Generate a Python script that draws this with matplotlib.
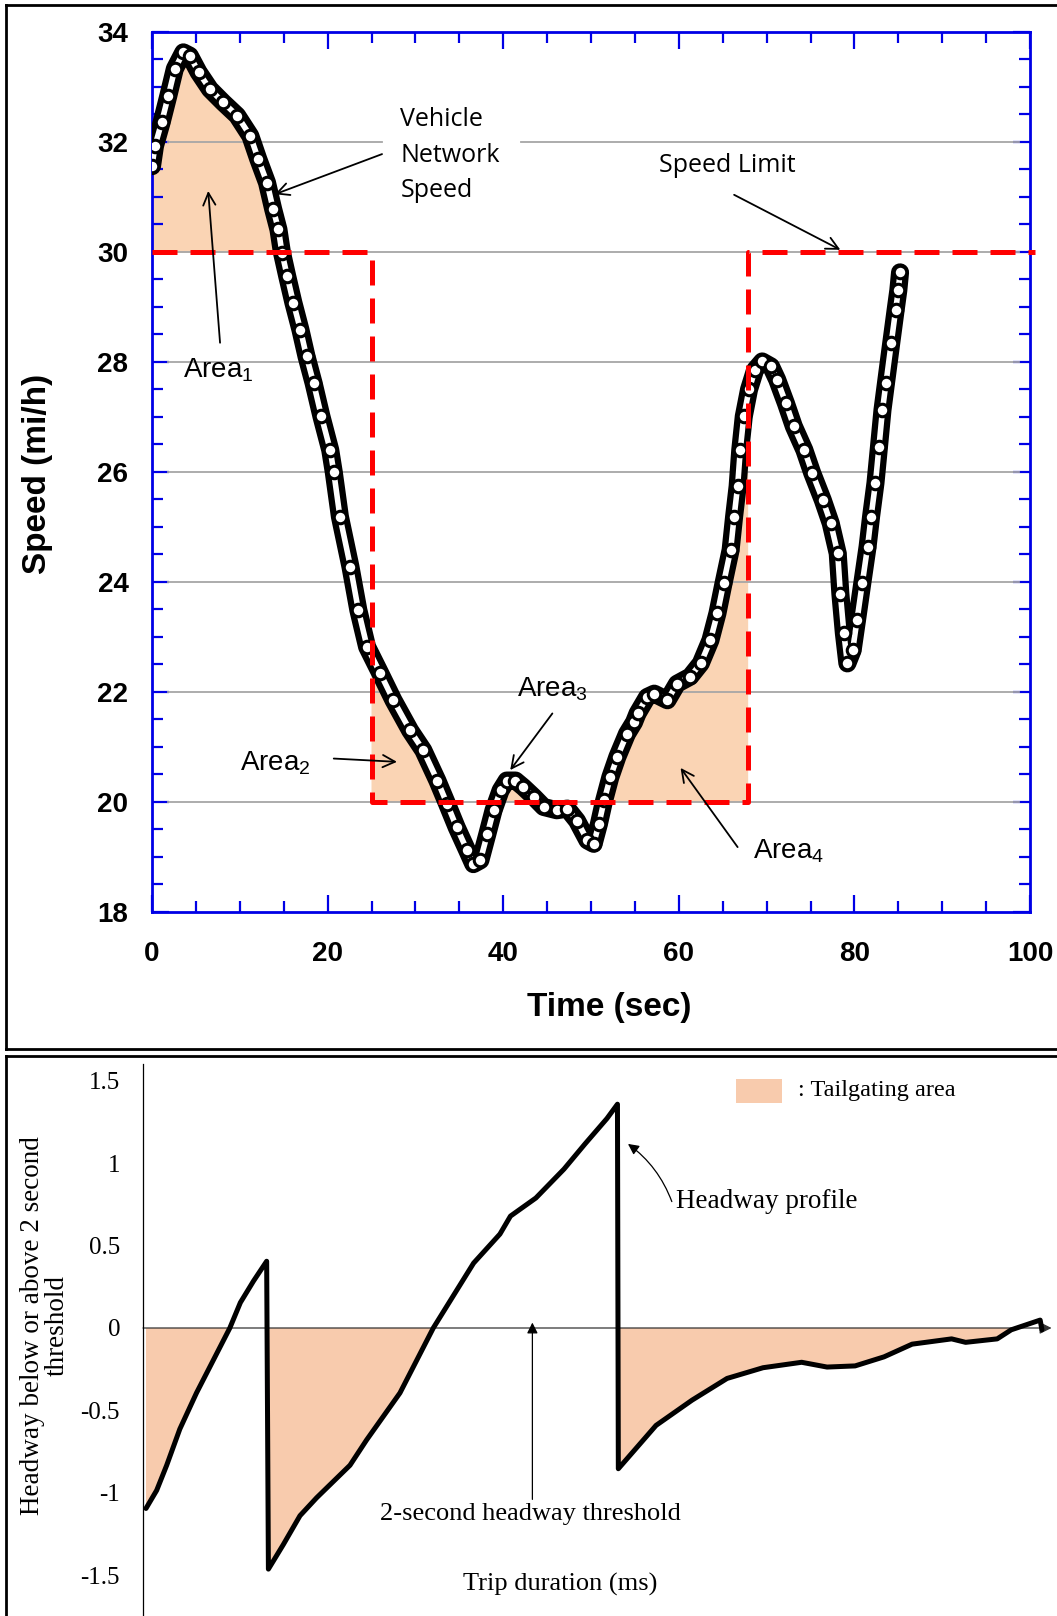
import numpy as np
import matplotlib
matplotlib.use("Agg")
import matplotlib.pyplot as plt
from matplotlib.lines import Line2D
from matplotlib.patches import Rectangle, FancyArrowPatch

plt.rcParams['mathtext.fontset'] = 'custom'
plt.rcParams['mathtext.rm'] = 'Liberation Sans'

# ---- top chart data: vehicle network speed ----
time_s = [0.0, 0.34, 1.1, 1.86, 2.6, 3.57, 4.3, 5.3, 6.6, 8.1, 9.7, 11.2, 12.1, 13.1,
          13.8, 14.4, 14.8, 15.4, 16.1, 16.9, 17.6, 18.4, 19.3, 20.3, 20.7, 21.4, 22.6,
          23.5, 24.5, 26.0, 27.5, 29.4, 30.9, 32.5, 33.6, 34.7, 35.9, 36.6, 37.4, 38.2,
          38.9, 39.7, 40.4, 41.4, 42.3, 43.5, 44.6, 46.1, 47.3, 48.4, 49.6, 50.3, 50.9,
          51.5, 52.2, 53.0, 54.1, 54.9, 55.3, 56.4, 57.2, 58.7, 59.8, 61.3, 62.5, 63.6,
          64.4, 65.1, 65.9, 66.3, 66.7, 67.0, 67.4, 68.0, 68.7, 69.5, 70.5, 71.2, 72.2,
          73.1, 74.3, 75.2, 76.4, 77.3, 78.1, 78.4, 78.8, 79.2, 79.8, 80.3, 80.9, 81.5,
          81.9, 82.4, 82.8, 83.2, 83.6, 84.2, 84.7, 85.0, 85.2]
speed_mph = [31.56, 31.93, 32.36, 32.84, 33.33, 33.63, 33.57, 33.27, 32.96, 32.72, 32.48,
             32.11, 31.69, 31.26, 30.78, 30.41, 29.99, 29.56, 29.08, 28.59, 28.10, 27.62,
             27.01, 26.40, 26.0, 25.19, 24.28, 23.49, 22.82, 22.34, 21.85, 21.30, 20.94,
             20.39, 19.97, 19.54, 19.12, 18.87, 18.94, 19.42, 19.85, 20.21, 20.39, 20.39,
             20.27, 20.09, 19.91, 19.85, 19.88, 19.66, 19.30, 19.24, 19.60, 20.03, 20.45,
             20.82, 21.24, 21.45, 21.61, 21.91, 21.97, 21.85, 22.15, 22.28, 22.52, 22.94,
             23.43, 23.98, 24.58, 25.19, 25.74, 26.40, 27.01, 27.50, 27.86, 28.01, 27.92,
             27.68, 27.25, 26.83, 26.40, 25.98, 25.49, 25.07, 24.52, 23.79, 23.07, 22.52,
             22.76, 23.31, 23.98, 24.64, 25.19, 25.80, 26.46, 27.13, 27.62, 28.35, 28.95,
             29.30, 29.63]

# speed limit profile
limit_t = [0, 25, 25, 67.9, 67.9, 100.6]
limit_v = [30, 30, 20, 20, 30, 30]
grid_levels = [20, 22, 24, 26, 28, 30, 32]

# ---- bottom chart data: headway relative to 2 s threshold ----
trip_t = [0.34, 1.56, 2.7, 4.2, 6.1, 8.0, 9.9, 11.1, 12.6, 14.1, 14.3, 16.0, 17.9, 19.8,
          23.6, 25.5, 29.3, 33.1, 37.7, 40.7, 41.9, 44.8, 48.0, 50.4, 52.9, 54.1, 54.2,
          58.5, 62.6, 66.6, 70.7, 75.1, 78.0, 81.2, 84.5, 87.7, 92.2, 93.8, 97.4, 99.0,
          102.3, 102.5]
headway = [-1.095, -0.985, -0.833, -0.613, -0.394, -0.197, 0.0, 0.154, 0.285, 0.405,
           -1.463, -1.314, -1.139, -1.03, -0.833, -0.679, -0.394, 0.0, 0.394, 0.57, 0.679,
           0.789, 0.964, 1.117, 1.271, 1.358, -0.854, -0.591, -0.438, -0.306, -0.241,
           -0.208, -0.237, -0.23, -0.175, -0.098, -0.066, -0.087, -0.066, -0.011, 0.048,
           -0.011]
headway_ticks = [1.5, 1, 0.5, 0, -0.5, -1, -1.5]
headway_labels = ['1.5', '1', '0.5', '0', '-0.5', '-1', '-1.5']

W, H = 1057, 1616
blue = '#0000E6'
peach_top = '#FAD4B4'
peach_bot = '#F8CBAD'
sans = 'Liberation Sans'
serif = 'Liberation Serif'

def fx(px):
    return px / W

def fy(py):
    return 1 - py / H

fig = plt.figure(figsize=(W / 100, H / 100), dpi=100)

# ================= top chart =================
ax1 = fig.add_axes([fx(152), fy(912), 878 / W, 880 / H])
ax1.set_xlim(0, 100)
ax1.set_ylim(18, 34)
t = np.array(time_s)
v = np.array(speed_mph)

# shaded areas where speed exceeds limit
for a, b, lvl in [(0, 25, 30), (25, 67.9, 20)]:
    m = (t > a) & (t < b)
    tt = np.r_[a, t[m], b]
    vv = np.interp(tt, t, v)
    ax1.fill_between(tt, vv, lvl, where=vv > lvl, interpolate=True,
                     color=peach_top, lw=0, zorder=1)

for lvl in grid_levels:
    if lvl == 32:
        ax1.plot([1.8, 26.2], [lvl, lvl], color='#A6A6A6', lw=1.3, zorder=2)
        ax1.plot([42.0, 98.8], [lvl, lvl], color='#A6A6A6', lw=1.3, zorder=2)
    else:
        ax1.plot([1.8, 98.8], [lvl, lvl], color='#A6A6A6', lw=1.3, zorder=2)

# vehicle speed chain of open markers
ax1.plot(t, v, color='black', lw=13, solid_capstyle='round', solid_joinstyle='round', zorder=4)
ax1.plot(t, v, color='white', lw=4, solid_capstyle='round', solid_joinstyle='round', zorder=5)
ax1.plot(t, v, 'o', ms=9, mfc='white', mec='black', mew=2.2, zorder=6)

ax1.plot(limit_t, limit_v, color='red', lw=3.6, dashes=(5, 2.6), clip_on=False, zorder=7)

for s in ax1.spines.values():
    s.set_color(blue)
    s.set_linewidth(2)
ax1.set_xticks(range(0, 101, 20))
ax1.set_xticks(range(0, 101, 5), minor=True)
ax1.set_yticks(range(18, 35, 2))
ax1.set_yticks(np.arange(18, 34.01, 0.5), minor=True)
ax1.tick_params(which='both', direction='in', top=True, right=True, color=blue, width=1.6)
ax1.tick_params(which='major', length=12)
ax1.tick_params(which='minor', length=8)
ax1.tick_params(axis='x', which='major', pad=21)
ax1.tick_params(axis='y', which='major', pad=17)
for lab in ax1.get_xticklabels() + ax1.get_yticklabels():
    lab.set_fontfamily(sans)
    lab.set_fontweight('bold')
    lab.set_fontsize(20)

fig.text(fx(609), fy(1007), 'Time (sec)', ha='center', va='center',
         fontsize=24, fontweight='bold', family=sans)
fig.text(fx(38), fy(474), 'Speed (mi/h)', ha='center', va='center', rotation=90,
         fontsize=24, fontweight='bold', family=sans)

arrow_kw = dict(arrowstyle='->', color='black', lw=1.3, mutation_scale=22,
                shrinkA=0, shrinkB=0)
ax1.text(28.3, 31.76, 'Vehicle\nNetwork\nSpeed', ha='left', va='center', fontsize=18,
         family='Open Sans', linespacing=1.55, zorder=8)
ax1.annotate('', xy=(14.0, 31.05), xytext=(26.2, 31.78), arrowprops=arrow_kw, zorder=8)
ax1.text(57.8, 31.58, 'Speed Limit', ha='left', va='center', fontsize=18,
         family='Open Sans', zorder=8)
ax1.annotate('', xy=(78.4, 30.04), xytext=(66.3, 31.04), arrowprops=arrow_kw, zorder=8)

area_txt = [(3.5, 27.72, 1), (10.0, 20.57, 2), (41.6, 21.92, 3), (68.5, 18.97, 4)]
for x0, y0, n in area_txt:
    ax1.text(x0, y0, 'Area$_{\\mathregular{%d}}$' % n, ha='left', va='baseline',
             fontsize=20, family=sans, zorder=8)
ax1.annotate('', xy=(6.4, 31.11), xytext=(7.75, 28.35), arrowprops=arrow_kw, zorder=8)
ax1.annotate('', xy=(27.9, 20.73), xytext=(20.7, 20.79), arrowprops=arrow_kw, zorder=8)
ax1.annotate('', xy=(40.8, 20.58), xytext=(45.6, 21.61), arrowprops=arrow_kw, zorder=8)
ax1.annotate('', xy=(60.2, 20.62), xytext=(66.7, 19.18), arrowprops=arrow_kw, zorder=8)

# ================= bottom chart =================
# x: 8.77 px per unit from px 143, y: 164.8 px per unit, zero at px 1328
ax2 = fig.add_axes([fx(143), 0, (W - 143) / W, (H - 1064) / H])
ax2.set_xlim(0, (W - 143) / 8.77)
ax2.set_ylim(-(H - 1328) / 164.8, (1328 - 1064) / 164.8)
ht = np.array(trip_t)
hv = np.array(headway)
ax2.fill_between(ht, hv, 0, where=hv < 0, interpolate=True, color=peach_bot, lw=0, zorder=1)
ax2.annotate('', xy=(103.6, 0), xytext=(0, 0),
             arrowprops=dict(arrowstyle='-|>', color='#333333', lw=0.9, mutation_scale=18,
                             shrinkA=0, shrinkB=0), zorder=2)
ax2.plot(ht, hv, color='black', lw=3.6, solid_joinstyle='round', solid_capstyle='round', zorder=3)

for k in ['top', 'right', 'bottom']:
    ax2.spines[k].set_visible(False)
ax2.spines['left'].set_linewidth(0.9)
ax2.set_xticks([])
ax2.set_yticks(headway_ticks)
ax2.set_yticklabels(headway_labels, family=serif, fontsize=18)
ax2.tick_params(axis='y', length=0, pad=16.5)

ax2.annotate('', xy=(44.4, 0.033), xytext=(44.4, -1.04),
             arrowprops=dict(arrowstyle='-|>', color='black', lw=0.9, mutation_scale=16,
                             shrinkA=0, shrinkB=0))
ax2.text(44.2, -1.13, '2-second headway threshold', ha='center', va='center',
         fontsize=19, family=serif)
ax2.text(47.6, -1.556, 'Trip duration (ms)', ha='center', va='center', fontsize=19,
         family=serif)
ax2.text(60.8, 0.767, 'Headway profile', ha='left', va='center', fontsize=19.5, family=serif)
ax2.add_patch(FancyArrowPatch((60.3, 0.767), (55.3, 1.117), connectionstyle='arc3,rad=0.15',
                              arrowstyle='-|>', mutation_scale=16, lw=0.9, color='black',
                              shrinkA=0, shrinkB=0))
ax2.add_patch(Rectangle((67.6, 1.363), 5.3, 0.149, color=peach_bot, lw=0))
ax2.text(74.7, 1.442, ': Tailgating area', ha='left', va='center', fontsize=17.5, family=serif)

fig.text(fx(45), fy(1326), 'Headway below or above 2 second\nthreshold', ha='center',
         va='center', rotation=90, fontsize=19.5, family=serif, linespacing=1.0,
         multialignment='center')

# panel borders
for xs, ys in [([6, W + 5], [5, 5]), ([6, 6], [5, 1049]), ([6, W + 5], [1049, 1049]),
               ([6, W + 5], [1056, 1056]), ([6, 6], [1056, H + 5])]:
    fig.add_artist(Line2D([fx(p) for p in xs], [fy(p) for p in ys], color='black', lw=2))

fig.savefig('out.png', dpi=100)
